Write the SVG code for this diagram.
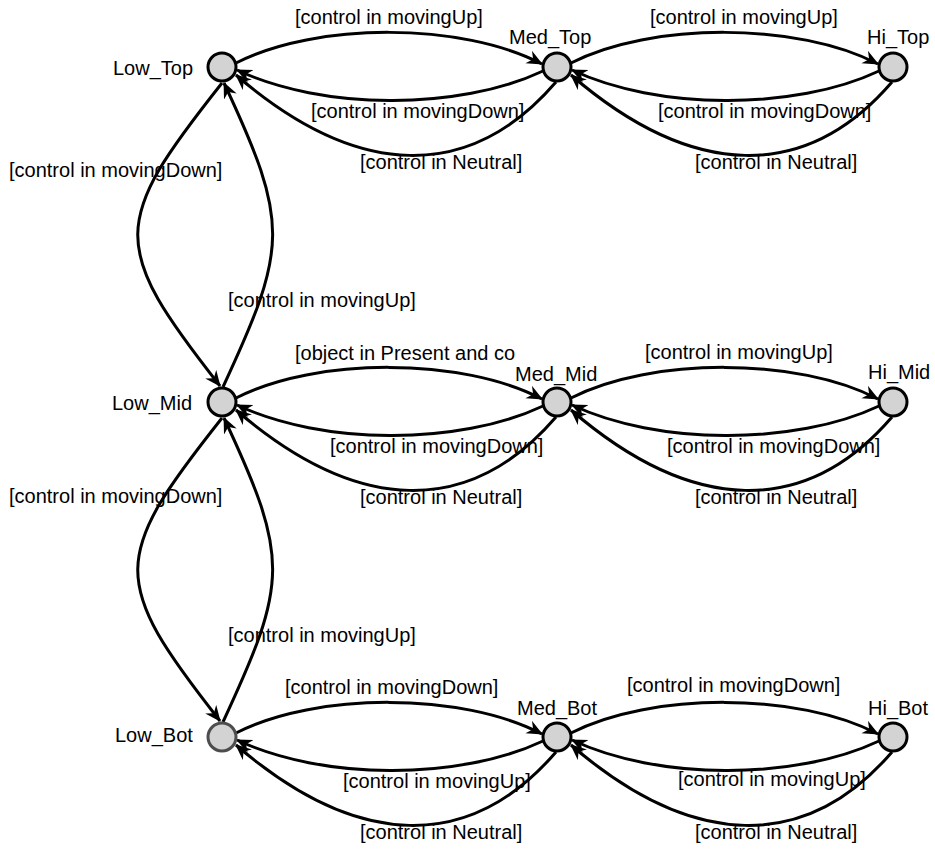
<svg xmlns="http://www.w3.org/2000/svg" width="935" height="851" viewBox="0 0 935 851">
<style>
text{font-family:"Liberation Sans",Arial,sans-serif;font-size:20px;fill:#000}
.n{fill:#d3d3d3;stroke:#000;stroke-width:3}
.init{stroke:#4d4d4d}
.e{fill:none;stroke:#000;stroke-width:3;marker-end:url(#ah)}
</style>
<defs>
<marker id="ah" markerUnits="userSpaceOnUse" markerWidth="18" markerHeight="16" refX="15" refY="7" orient="auto">
<path d="M0,0 L16,7 L0,14 L5,7 z" fill="#000"/>
</marker>
</defs>
<g id="connectors">
<!-- top row Low-Med -->
<path class="e" d="M236,63 C316,22 462,22 542,64"/>
<path class="e" d="M543,71 C458,111 322,110 237,70"/>
<path class="e" d="M556,82 C470,182 358,180 236,75"/>
<!-- top row Med-Hi -->
<path class="e" d="M571,63 C651,22 798,22 878,64"/>
<path class="e" d="M879,71 C794,111 657,110 572,70"/>
<path class="e" d="M892,82 C806,182 693,180 571,75"/>
<!-- mid row Low-Med -->
<path class="e" d="M236,398 C316,357 462,357 542,399"/>
<path class="e" d="M543,406 C458,446 322,445 237,405"/>
<path class="e" d="M556,417 C470,517 358,515 236,410"/>
<!-- mid row Med-Hi -->
<path class="e" d="M571,398 C651,357 798,357 878,399"/>
<path class="e" d="M879,406 C794,446 657,445 572,405"/>
<path class="e" d="M892,417 C806,517 693,515 571,410"/>
<!-- bottom row Low-Med -->
<path class="e" d="M236,733 C316,692 462,692 542,734"/>
<path class="e" d="M543,741 C458,781 322,780 237,740"/>
<path class="e" d="M556,752 C470,852 358,850 236,745"/>
<!-- bottom row Med-Hi -->
<path class="e" d="M571,733 C651,692 798,692 878,734"/>
<path class="e" d="M879,741 C794,781 657,780 572,740"/>
<path class="e" d="M892,752 C806,852 693,850 571,745"/>
<!-- vertical Low_Top <-> Low_Mid -->
<path class="e" d="M222,83 C111,223 109,245 220,386"/>
<path class="e" d="M223,387 C288,247 290,224 224,83"/>
<!-- vertical Low_Mid <-> Low_Bot -->
<path class="e" d="M222,418 C111,558 109,580 220,721"/>
<path class="e" d="M223,722 C288,582 290,559 224,418"/>
</g>
<g id="edge-labels">
<text x="295" y="24">[control in movingUp]</text>
<text x="311" y="118">[control in movingDown]</text>
<text x="360" y="169">[control in Neutral]</text>
<text x="650" y="24">[control in movingUp]</text>
<text x="658" y="118">[control in movingDown]</text>
<text x="695" y="169">[control in Neutral]</text>
<text x="9" y="177">[control in movingDown]</text>
<text x="228" y="307">[control in movingUp]</text>
<text x="295" y="360">[object in Present and co</text>
<text x="330" y="453">[control in movingDown]</text>
<text x="360" y="504">[control in Neutral]</text>
<text x="645" y="359">[control in movingUp]</text>
<text x="667" y="453">[control in movingDown]</text>
<text x="695" y="504">[control in Neutral]</text>
<text x="9" y="503">[control in movingDown]</text>
<text x="228" y="642">[control in movingUp]</text>
<text x="285" y="694">[control in movingDown]</text>
<text x="343" y="788">[control in movingUp]</text>
<text x="360" y="839">[control in Neutral]</text>
<text x="627" y="692">[control in movingDown]</text>
<text x="678" y="786">[control in movingUp]</text>
<text x="695" y="839">[control in Neutral]</text>
</g>
<g id="Low_Top"><circle class="n" cx="222" cy="67" r="14"/><text x="113" y="75">Low_Top</text></g>
<g id="Med_Top"><circle class="n" cx="557" cy="67" r="14"/><text x="509" y="44">Med_Top</text></g>
<g id="Hi_Top"><circle class="n" cx="893" cy="67" r="14"/><text x="867" y="44">Hi_Top</text></g>
<g id="Low_Mid"><circle class="n" cx="222" cy="402" r="14"/><text x="112" y="410">Low_Mid</text></g>
<g id="Med_Mid"><circle class="n" cx="557" cy="402" r="14"/><text x="515" y="381">Med_Mid</text></g>
<g id="Hi_Mid"><circle class="n" cx="893" cy="402" r="14"/><text x="868" y="379">Hi_Mid</text></g>
<g id="Low_Bot"><circle class="n init" cx="222" cy="737" r="14"/><text x="115" y="742">Low_Bot</text></g>
<g id="Med_Bot"><circle class="n" cx="557" cy="737" r="14"/><text x="517" y="715">Med_Bot</text></g>
<g id="Hi_Bot"><circle class="n" cx="893" cy="737" r="14"/><text x="868" y="715">Hi_Bot</text></g>
</svg>
